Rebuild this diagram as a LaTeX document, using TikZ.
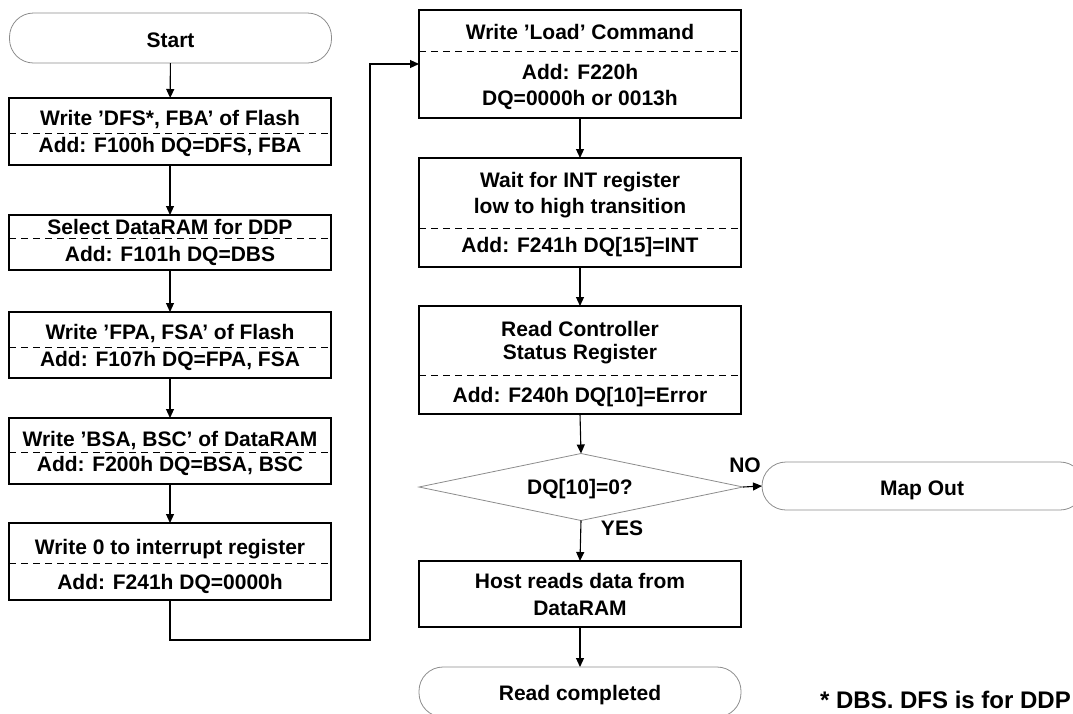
\documentclass[tikz,border=0pt]{standalone}
\usepackage{fontspec}
\setmainfont{Liberation Sans}
\usetikzlibrary{arrows.meta,shapes.geometric}
\begin{document}
\begin{tikzpicture}[x=1pt,y=-1pt,
  box/.style={draw=black,line width=1.2pt,minimum width=322pt,inner sep=0pt,outer sep=0pt},
  term/.style={draw=black!45,line width=0.8pt,rounded corners=24pt,minimum width=322pt,inner sep=0pt,outer sep=0pt},
  dec/.style={draw=black!45,line width=0.8pt,diamond,minimum width=324pt,minimum height=67pt,inner sep=0pt,outer sep=0pt},
  sep/.style={dashed,dash pattern=on 7pt off 5pt,line width=0.9pt},
  txt/.style={anchor=base,inner sep=0pt,font=\fontsize{21}{25}\selectfont\bfseries},
  arr/.style={line width=1.1pt,-{Triangle[length=9pt,width=8pt]}},
  lne/.style={line width=1.1pt}]
\clip (0,0) rectangle (1073,713);
\useasboundingbox (0,0) rectangle (1073,713);
% left column
\node[term,minimum height=50pt] (st) at (170.5,38) {};
\node[txt] (stt) at (170.5,47) {Start};
\node[box,minimum height=67pt] (b1) at (170,131.5) {};
\node[txt] (b1a) at (170,125) {Write ’DFS*, FBA’ of Flash};
\node[txt] (b1b) at (170,152) {Add: F100h DQ=DFS, FBA};
\draw[sep] (b1.west |- 0,133) -- (b1.east |- 0,133);
\node[box,minimum height=55pt] (b2) at (170,242.5) {};
\node[txt] (b2a) at (170,234) {Select DataRAM for DDP};
\node[txt] (b2b) at (170,261) {Add: F101h DQ=DBS};
\draw[sep] (b2.west |- 0,238) -- (b2.east |- 0,238);
\node[box,minimum height=66pt] (b3) at (170,345) {};
\node[txt] (b3a) at (170,339) {Write ’FPA, FSA’ of Flash};
\node[txt] (b3b) at (170,366) {Add: F107h DQ=FPA, FSA};
\draw[sep] (b3.west |- 0,347) -- (b3.east |- 0,347);
\node[box,minimum height=66pt] (b4) at (170,451) {};
\node[txt] (b4a) at (170,446) {Write ’BSA, BSC’ of DataRAM};
\node[txt] (b4b) at (170,471) {Add: F200h DQ=BSA, BSC};
\draw[sep] (b4.west |- 0,452) -- (b4.east |- 0,452);
\node[box,minimum height=77pt] (b5) at (170,561.5) {};
\node[txt] (b5a) at (170,554) {Write 0 to interrupt register};
\node[txt] (b5b) at (170,589) {Add: F241h DQ=0000h};
\draw[sep] (b5.west |- 0,563) -- (b5.east |- 0,563);
% right column
\node[box,minimum height=108pt] (b6) at (580,64) {};
\node[txt] (b6a) at (580,39) {Write ’Load’ Command};
\node[txt] (b6b) at (580,79) {Add: F220h};
\node[txt] (b6c) at (580,105) {DQ=0000h or 0013h};
\draw[sep] (b6.west |- 0,51) -- (b6.east |- 0,51);
\node[box,minimum height=109pt] (b7) at (580,212.5) {};
\node[txt] (b7a) at (580,187) {Wait for INT register};
\node[txt] (b7b) at (580,213) {low to high transition};
\node[txt] (b7c) at (580,252) {Add: F241h DQ[15]=INT};
\draw[sep] (b7.west |- 0,228) -- (b7.east |- 0,228);
\node[box,minimum height=108pt] (b8) at (580,360) {};
\node[txt] (b8a) at (580,336) {Read Controller};
\node[txt] (b8b) at (580,359) {Status Register};
\node[txt] (b8c) at (580,402) {Add: F240h DQ[10]=Error};
\draw[sep] (b8.west |- 0,375) -- (b8.east |- 0,375);
\node[dec] (d) at (581,487) {};
\node[txt] (dt) at (580,494) {DQ[10]=0?};
\node[txt] (no) at (745,472) {NO};
\node[txt] (yes) at (622,535) {YES};
\node[term,minimum height=48pt] (mo) at (923,486) {};
\node[txt] (mot) at (922,495) {Map Out};
\node[box,minimum height=66pt] (b9) at (580,594) {};
\node[txt] (b9a) at (580,588) {Host reads data from};
\node[txt] (b9b) at (580,615) {DataRAM};
\node[term,minimum height=50pt] (rc) at (580,692) {};
\node[txt] (rct) at (580,700) {Read completed};
\node[txt,anchor=base east,font=\fontsize{24}{28}\selectfont\bfseries] (fn) at (1071,708) {* DBS. DFS is for DDP};
% connectors
\draw[arr] (st) -- (b1);
\draw[arr] (b1) -- (b2);
\draw[arr] (b2) -- (b3);
\draw[arr] (b3) -- (b4);
\draw[arr] (b4) -- (b5);
\coordinate (c1) at (170,640);
\coordinate (c2) at (370,640);
\coordinate (c3) at (370,64);
\draw[arr] (b5.south) -- (c1) -- (c2) -- (c3) -- (c3 -| b6.west);
\draw[arr] (b6) -- (b7);
\draw[arr] (b7) -- (b8);
\draw[arr] (b8.south) -- (d.north);
\draw[arr] (d.east) -- (mo.west);
\draw[arr] (d.south) -- (b9.north);
\draw[arr] (b9) -- (rc);
\end{tikzpicture}
\end{document}
